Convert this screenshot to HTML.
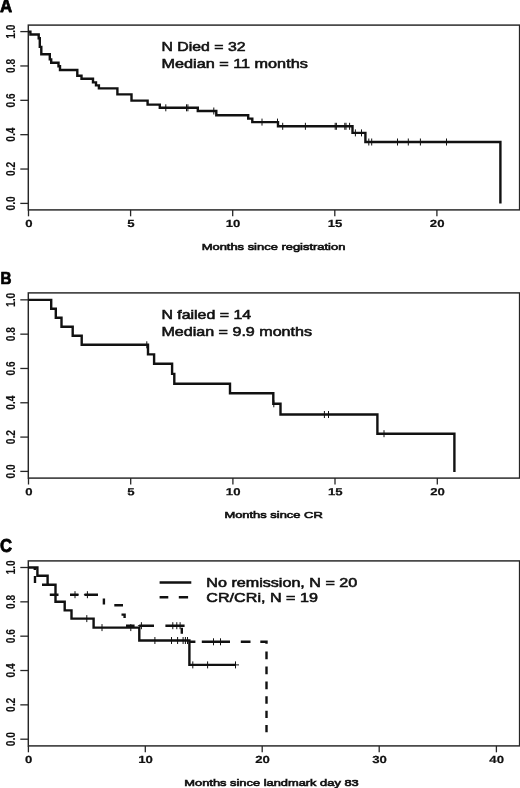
<!DOCTYPE html>
<html lang="en">
<head>
<meta charset="utf-8">
<title>Kaplan-Meier curves</title>
<style>html,body{margin:0;padding:0;background:#fff}body{width:520px;height:788px;overflow:hidden}svg{display:block}</style>
</head>
<body>
<svg width="520" height="788" viewBox="0 0 520 788">
<rect width="520" height="788" fill="#fff"/>
<g font-family="'Liberation Sans', Arial, Helvetica, sans-serif" font-weight="bold" fill="#000" stroke="#000" stroke-width="0.75" stroke-linejoin="round"><text transform="translate(0.0 12.3) scale(0.96 1)" font-size="17.6">A</text><text transform="translate(0.5 283.5) scale(0.93 1)" font-size="16.4">B</text><text transform="translate(0.1 552.0) scale(0.95 1)" font-size="17.6">C</text></g>
<rect x="28.3" y="25.1" width="491.3" height="184.8" fill="none" stroke="#262626" stroke-width="1.45"/>
<g stroke="#262626" stroke-width="1.3"><line x1="20.3" y1="203.40" x2="28.3" y2="203.40"/><line x1="20.3" y1="169.04" x2="28.3" y2="169.04"/><line x1="20.3" y1="134.68" x2="28.3" y2="134.68"/><line x1="20.3" y1="100.32" x2="28.3" y2="100.32"/><line x1="20.3" y1="65.96" x2="28.3" y2="65.96"/><line x1="20.3" y1="31.60" x2="28.3" y2="31.60"/><line x1="28.5" y1="209.9" x2="28.5" y2="216.3"/><line x1="130.6" y1="209.9" x2="130.6" y2="216.3"/><line x1="232.7" y1="209.9" x2="232.7" y2="216.3"/><line x1="334.8" y1="209.9" x2="334.8" y2="216.3"/><line x1="436.9" y1="209.9" x2="436.9" y2="216.3"/></g>
<g font-family="'Liberation Sans', Arial, Helvetica, sans-serif" font-weight="bold" font-size="9.6" fill="#111"><text transform="translate(15.45 203.40) scale(1.2 1) rotate(-90)" text-anchor="middle" font-size="10.2" stroke="#111" stroke-width="0.1">0.0</text><text transform="translate(15.45 169.04) scale(1.2 1) rotate(-90)" text-anchor="middle" font-size="10.2" stroke="#111" stroke-width="0.1">0.2</text><text transform="translate(15.45 134.68) scale(1.2 1) rotate(-90)" text-anchor="middle" font-size="10.2" stroke="#111" stroke-width="0.1">0.4</text><text transform="translate(15.45 100.32) scale(1.2 1) rotate(-90)" text-anchor="middle" font-size="10.2" stroke="#111" stroke-width="0.1">0.6</text><text transform="translate(15.45 65.96) scale(1.2 1) rotate(-90)" text-anchor="middle" font-size="10.2" stroke="#111" stroke-width="0.1">0.8</text><text transform="translate(15.45 31.60) scale(1.2 1) rotate(-90)" text-anchor="middle" font-size="10.2" stroke="#111" stroke-width="0.1">1.0</text><text transform="translate(28.8 227.0) rotate(0.05) scale(1.28 1)" text-anchor="middle" font-size="10.3" stroke="#111" stroke-width="0.2">0</text><text transform="translate(130.9 227.0) rotate(0.05) scale(1.28 1)" text-anchor="middle" font-size="10.3" stroke="#111" stroke-width="0.2">5</text><text transform="translate(233.0 227.0) rotate(0.05) scale(1.28 1)" text-anchor="middle" font-size="10.3" stroke="#111" stroke-width="0.2">10</text><text transform="translate(335.1 227.0) rotate(0.05) scale(1.28 1)" text-anchor="middle" font-size="10.3" stroke="#111" stroke-width="0.2">15</text><text transform="translate(437.2 227.0) rotate(0.05) scale(1.28 1)" text-anchor="middle" font-size="10.3" stroke="#111" stroke-width="0.2">20</text></g>
<path d="M28.3,31.6 H30.4 V34.5 H38.7 V38.3 H39.8 V46.9 H41.3 V54.2 H49.8 V59.4 H51.2 V62.7 H58.5 V66.3 H60 V70 H77.3 V75.8 H81.5 V78.7 H93 V82.4 H96 V85.4 H98.9 V88.4 H117.4 V94.4 H131.5 V100.6 H147.6 V104.6 H159.8 V107.8 H197.8 V111 H216.3 V115.2 H248.2 V118.6 H252.3 V122.1 H278 V126.3 H352.5 V132.9 H365.4 V142 H500.4 V203.6" fill="none" stroke="#111" stroke-width="2.4" stroke-linejoin="miter"/>
<g stroke="#111" stroke-width="1.0" fill="none"><line x1="165.8" y1="104.3" x2="165.8" y2="111.3"/><line x1="186.5" y1="104.3" x2="186.5" y2="111.3"/><line x1="187.9" y1="104.3" x2="187.9" y2="111.3"/><line x1="213.8" y1="107.5" x2="213.8" y2="114.5"/><line x1="262" y1="118.6" x2="262" y2="125.6"/><line x1="277.5" y1="118.6" x2="277.5" y2="125.6"/><line x1="282.7" y1="122.8" x2="282.7" y2="129.8"/><line x1="305.4" y1="122.8" x2="305.4" y2="129.8"/><line x1="335.2" y1="122.8" x2="335.2" y2="129.8"/><line x1="336.4" y1="122.8" x2="336.4" y2="129.8"/><line x1="344.8" y1="122.8" x2="344.8" y2="129.8"/><line x1="346" y1="122.8" x2="346" y2="129.8"/><line x1="349.6" y1="122.8" x2="349.6" y2="129.8"/><line x1="355.4" y1="129.4" x2="355.4" y2="136.4"/><line x1="361.5" y1="129.4" x2="361.5" y2="136.4"/><line x1="368.8" y1="138.5" x2="368.8" y2="145.5"/><line x1="371.7" y1="138.5" x2="371.7" y2="145.5"/><line x1="397.5" y1="138.5" x2="397.5" y2="145.5"/><line x1="408.3" y1="138.5" x2="408.3" y2="145.5"/><line x1="420.4" y1="138.5" x2="420.4" y2="145.5"/><line x1="446.5" y1="138.5" x2="446.5" y2="145.5"/></g>
<g font-family="'Liberation Sans', Arial, Helvetica, sans-serif" fill="#111"><text x="161.5" y="51.4" font-size="12.3" font-weight="normal" textLength="84" lengthAdjust="spacingAndGlyphs" stroke="#111" stroke-width="0.55">N Died = 32</text><text x="161.5" y="68.2" font-size="12.3" font-weight="normal" textLength="146.3" lengthAdjust="spacingAndGlyphs" stroke="#111" stroke-width="0.55">Median = 11 months</text></g>
<g font-family="'Liberation Sans', Arial, Helvetica, sans-serif" fill="#111"><text x="201.7" y="250" font-size="9.7" font-weight="normal" textLength="143.7" lengthAdjust="spacingAndGlyphs" stroke="#111" stroke-width="0.62">Months since registration</text></g>
<rect x="28.3" y="292.9" width="491.3" height="185.20000000000005" fill="none" stroke="#262626" stroke-width="1.45"/>
<g stroke="#262626" stroke-width="1.3"><line x1="20.3" y1="471.40" x2="28.3" y2="471.40"/><line x1="20.3" y1="437.09" x2="28.3" y2="437.09"/><line x1="20.3" y1="402.78" x2="28.3" y2="402.78"/><line x1="20.3" y1="368.47" x2="28.3" y2="368.47"/><line x1="20.3" y1="334.16" x2="28.3" y2="334.16"/><line x1="20.3" y1="299.85" x2="28.3" y2="299.85"/><line x1="28.5" y1="478.1" x2="28.5" y2="484.5"/><line x1="130.7" y1="478.1" x2="130.7" y2="484.5"/><line x1="232.9" y1="478.1" x2="232.9" y2="484.5"/><line x1="335.0" y1="478.1" x2="335.0" y2="484.5"/><line x1="437.3" y1="478.1" x2="437.3" y2="484.5"/></g>
<g font-family="'Liberation Sans', Arial, Helvetica, sans-serif" font-weight="bold" font-size="9.6" fill="#111"><text transform="translate(15.45 471.40) scale(1.2 1) rotate(-90)" text-anchor="middle" font-size="10.2" stroke="#111" stroke-width="0.1">0.0</text><text transform="translate(15.45 437.09) scale(1.2 1) rotate(-90)" text-anchor="middle" font-size="10.2" stroke="#111" stroke-width="0.1">0.2</text><text transform="translate(15.45 402.78) scale(1.2 1) rotate(-90)" text-anchor="middle" font-size="10.2" stroke="#111" stroke-width="0.1">0.4</text><text transform="translate(15.45 368.47) scale(1.2 1) rotate(-90)" text-anchor="middle" font-size="10.2" stroke="#111" stroke-width="0.1">0.6</text><text transform="translate(15.45 334.16) scale(1.2 1) rotate(-90)" text-anchor="middle" font-size="10.2" stroke="#111" stroke-width="0.1">0.8</text><text transform="translate(15.45 299.85) scale(1.2 1) rotate(-90)" text-anchor="middle" font-size="10.2" stroke="#111" stroke-width="0.1">1.0</text><text transform="translate(28.8 495.2) rotate(0.05) scale(1.28 1)" text-anchor="middle" font-size="10.3" stroke="#111" stroke-width="0.2">0</text><text transform="translate(131.0 495.2) rotate(0.05) scale(1.28 1)" text-anchor="middle" font-size="10.3" stroke="#111" stroke-width="0.2">5</text><text transform="translate(233.20000000000002 495.2) rotate(0.05) scale(1.28 1)" text-anchor="middle" font-size="10.3" stroke="#111" stroke-width="0.2">10</text><text transform="translate(335.3 495.2) rotate(0.05) scale(1.28 1)" text-anchor="middle" font-size="10.3" stroke="#111" stroke-width="0.2">15</text><text transform="translate(437.6 495.2) rotate(0.05) scale(1.28 1)" text-anchor="middle" font-size="10.3" stroke="#111" stroke-width="0.2">20</text></g>
<path d="M28.3,299.85 H51.2 V308.8 H55.8 V317.8 H61.5 V326.8 H72.7 V335.8 H81.7 V344.8 H148 V354.4 H154.1 V363.8 H172.1 V373.9 H174.3 V383.7 H230 V393.3 H273.3 V403.8 H280.5 V414.5 H377.4 V433.7 H454.4 V471.9" fill="none" stroke="#111" stroke-width="2.4" stroke-linejoin="miter"/>
<g stroke="#111" stroke-width="1.0" fill="none"><line x1="146.8" y1="341.3" x2="146.8" y2="348.3"/><line x1="273.8" y1="400.3" x2="273.8" y2="407.3"/><line x1="324.4" y1="411.0" x2="324.4" y2="418.0"/><line x1="328.5" y1="411.0" x2="328.5" y2="418.0"/><line x1="384" y1="430.2" x2="384" y2="437.2"/></g>
<g font-family="'Liberation Sans', Arial, Helvetica, sans-serif" fill="#111"><text x="161.4" y="319" font-size="12.3" font-weight="normal" textLength="89.7" lengthAdjust="spacingAndGlyphs" stroke="#111" stroke-width="0.55">N failed = 14</text><text x="161.4" y="336.3" font-size="12.3" font-weight="normal" textLength="150.6" lengthAdjust="spacingAndGlyphs" stroke="#111" stroke-width="0.55">Median = 9.9 months</text></g>
<g font-family="'Liberation Sans', Arial, Helvetica, sans-serif" fill="#111"><text x="224.4" y="518.4" font-size="9.7" font-weight="normal" textLength="98.4" lengthAdjust="spacingAndGlyphs" stroke="#111" stroke-width="0.62">Months since CR</text></g>
<rect x="28.3" y="560.9" width="491.3" height="185.0" fill="none" stroke="#262626" stroke-width="1.45"/>
<g stroke="#262626" stroke-width="1.3"><line x1="20.3" y1="739.20" x2="28.3" y2="739.20"/><line x1="20.3" y1="704.86" x2="28.3" y2="704.86"/><line x1="20.3" y1="670.52" x2="28.3" y2="670.52"/><line x1="20.3" y1="636.18" x2="28.3" y2="636.18"/><line x1="20.3" y1="601.84" x2="28.3" y2="601.84"/><line x1="20.3" y1="567.50" x2="28.3" y2="567.50"/><line x1="28.4" y1="745.9" x2="28.4" y2="752.3"/><line x1="145.3" y1="745.9" x2="145.3" y2="752.3"/><line x1="262.2" y1="745.9" x2="262.2" y2="752.3"/><line x1="379.2" y1="745.9" x2="379.2" y2="752.3"/><line x1="496.4" y1="745.9" x2="496.4" y2="752.3"/></g>
<g font-family="'Liberation Sans', Arial, Helvetica, sans-serif" font-weight="bold" font-size="9.6" fill="#111"><text transform="translate(15.45 739.20) scale(1.2 1) rotate(-90)" text-anchor="middle" font-size="10.2" stroke="#111" stroke-width="0.1">0.0</text><text transform="translate(15.45 704.86) scale(1.2 1) rotate(-90)" text-anchor="middle" font-size="10.2" stroke="#111" stroke-width="0.1">0.2</text><text transform="translate(15.45 670.52) scale(1.2 1) rotate(-90)" text-anchor="middle" font-size="10.2" stroke="#111" stroke-width="0.1">0.4</text><text transform="translate(15.45 636.18) scale(1.2 1) rotate(-90)" text-anchor="middle" font-size="10.2" stroke="#111" stroke-width="0.1">0.6</text><text transform="translate(15.45 601.84) scale(1.2 1) rotate(-90)" text-anchor="middle" font-size="10.2" stroke="#111" stroke-width="0.1">0.8</text><text transform="translate(15.45 567.50) scale(1.2 1) rotate(-90)" text-anchor="middle" font-size="10.2" stroke="#111" stroke-width="0.1">1.0</text><text transform="translate(28.7 762.9) rotate(0.05) scale(1.28 1)" text-anchor="middle" font-size="10.3" stroke="#111" stroke-width="0.2">0</text><text transform="translate(145.60000000000002 762.9) rotate(0.05) scale(1.28 1)" text-anchor="middle" font-size="10.3" stroke="#111" stroke-width="0.2">10</text><text transform="translate(262.5 762.9) rotate(0.05) scale(1.28 1)" text-anchor="middle" font-size="10.3" stroke="#111" stroke-width="0.2">20</text><text transform="translate(379.5 762.9) rotate(0.05) scale(1.28 1)" text-anchor="middle" font-size="10.3" stroke="#111" stroke-width="0.2">30</text><text transform="translate(496.7 762.9) rotate(0.05) scale(1.28 1)" text-anchor="middle" font-size="10.3" stroke="#111" stroke-width="0.2">40</text></g>
<path d="M28.3,567.5 H37.4 V575.7 H47.6 V584.8 H55.5 V601.7 H64.7 V610.4 H71.5 V618.6 H93.6 V627.6 H139.3 V640.5 H189.4 V664.9 H235.5" fill="none" stroke="#111" stroke-width="2.4" stroke-linejoin="miter"/>
<g stroke="#111" stroke-width="1.0" fill="none"><line x1="86.8" y1="615.1" x2="86.8" y2="622.1"/><line x1="102" y1="624.1" x2="102" y2="631.1"/><line x1="130.8" y1="624.1" x2="130.8" y2="631.1"/><line x1="154.9" y1="637.0" x2="154.9" y2="644.0"/><line x1="171.5" y1="637.0" x2="171.5" y2="644.0"/><line x1="177.6" y1="637.0" x2="177.6" y2="644.0"/><line x1="183.1" y1="637.0" x2="183.1" y2="644.0"/><line x1="185.4" y1="637.0" x2="185.4" y2="644.0"/><line x1="187.5" y1="637.0" x2="187.5" y2="644.0"/><line x1="192.8" y1="661.4" x2="192.8" y2="668.4"/><line x1="207.6" y1="661.4" x2="207.6" y2="668.4"/></g>
<g stroke="#111" stroke-width="1.0" fill="none"><line x1="235.5" y1="661.4" x2="235.5" y2="668.4"/><line x1="232.0" y1="664.9" x2="239.0" y2="664.9"/></g>
<path d="M34.8,567.5 V570 M35,576 V583 M42,584.8 H48.8 M49.8,594.7 H58.5 M70,594.7 H78.5 M84.5,594.7 H98 M103.9,598.4 V604.4 M114.3,605.2 H123 M121.5,614.6 H124.6 V618 M126,625.7 H134.6 M139.2,625.7 H154 M165.4,625.7 H184.6 M181.8,627.7 V633.8 M189.2,641.8 H195.4 M201.8,641.8 H230 M240.8,641.8 H250.5 M260.3,641.8 H266.5 V643.8 M266.5,651.5 V659.2 M266.5,666.6 V674.3 M266.5,681.5 V689.2 M266.5,696.2 V703.8 M266.5,710.8 V718 M266.5,725 V732.3" fill="none" stroke="#111" stroke-width="2.4" stroke-linejoin="miter"/>
<g stroke="#111" stroke-width="1.0" fill="none"><line x1="75" y1="591.2" x2="75" y2="598.2"/><line x1="71.5" y1="594.7" x2="78.5" y2="594.7"/><line x1="87.4" y1="591.2" x2="87.4" y2="598.2"/><line x1="83.9" y1="594.7" x2="90.9" y2="594.7"/><line x1="141.4" y1="622.2" x2="141.4" y2="629.2"/><line x1="137.9" y1="625.7" x2="144.9" y2="625.7"/><line x1="172.8" y1="622.2" x2="172.8" y2="629.2"/><line x1="169.3" y1="625.7" x2="176.3" y2="625.7"/><line x1="176.8" y1="622.2" x2="176.8" y2="629.2"/><line x1="173.3" y1="625.7" x2="180.3" y2="625.7"/><line x1="180.1" y1="622.2" x2="180.1" y2="629.2"/><line x1="176.6" y1="625.7" x2="183.6" y2="625.7"/><line x1="213.5" y1="638.3" x2="213.5" y2="645.3"/><line x1="210.0" y1="641.8" x2="217.0" y2="641.8"/><line x1="220.5" y1="638.3" x2="220.5" y2="645.3"/><line x1="217.0" y1="641.8" x2="224.0" y2="641.8"/></g>
<path d="M159.6,582.5 H191.3 M159.6,597.3 H168.3 M178.8,597.3 H188.1" fill="none" stroke="#111" stroke-width="2.4"/>
<g font-family="'Liberation Sans', Arial, Helvetica, sans-serif" fill="#111"><text x="206.3" y="586.5" font-size="12.3" font-weight="normal" textLength="151" lengthAdjust="spacingAndGlyphs" stroke="#111" stroke-width="0.55">No remission, N = 20</text><text x="206.3" y="602.0" font-size="12.3" font-weight="normal" textLength="111.7" lengthAdjust="spacingAndGlyphs" stroke="#111" stroke-width="0.55">CR/CRi, N = 19</text></g>
<g font-family="'Liberation Sans', Arial, Helvetica, sans-serif" fill="#111"><text x="184.3" y="785.5" font-size="9.7" font-weight="normal" textLength="174.4" lengthAdjust="spacingAndGlyphs" stroke="#111" stroke-width="0.62">Months since landmark day 83</text></g>
</svg>
</body>
</html>
